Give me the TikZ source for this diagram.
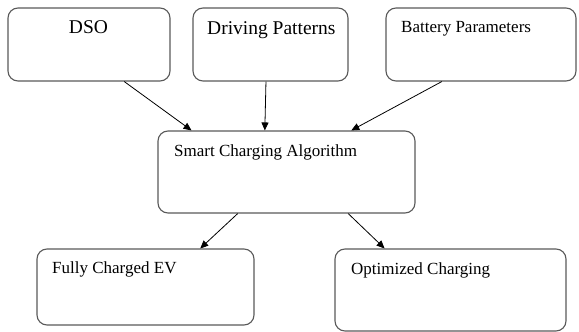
\documentclass[tikz,border=0pt]{standalone}
\usepackage{fontspec}
\setmainfont{Liberation Serif}
\usetikzlibrary{arrows.meta,calc}
\tikzset{
  flow box/.style={draw=black!65,line width=1.1pt,rounded corners=10pt,inner sep=0pt},
  box text/.style={inner sep=0pt,font=\fontsize{17}{20}\selectfont},
  big text/.style={box text,font=\fontsize{19.5}{23}\selectfont},
  flow edge/.style={-{Triangle[length=8pt,width=7pt]},line width=0.8pt},
}

\begin{document}
\begin{tikzpicture}[x=1pt,y=1pt]
  \useasboundingbox (0,0) rectangle (579,332);
  % input boxes
  \foreach \n/\x/\w in {dso/89/162,drv/270.5/155,bat/481/190}{
    \node[flow box,minimum width=\w pt,minimum height=73pt] (\n) at (\x,287.5) {};
  }
  \node[flow box,minimum width=257pt,minimum height=82pt] (sca) at (286.5,160) {};
  \node[flow box,minimum width=217pt,minimum height=76pt] (full) at (145.5,45) {};
  \node[flow box,minimum width=231pt,minimum height=82pt] (opt) at (450.5,42) {};
  % labels
  \node[big text,anchor=base] (dso text) at (88.5,298) {DSO};
  \node[big text,anchor=base west] (drv text) at (207,297) {Driving Patterns};
  \node[box text,anchor=base west] (bat text) at (401,299) {Battery Parameters};
  \node[box text,anchor=base west] (sca text) at (174,175) {Smart Charging Algorithm};
  \node[box text,anchor=base west] (full text) at (52,58) {Fully Charged EV};
  \node[box text,anchor=base west] (opt text) at (351,57) {Optimized Charging};
  % arrows
  \draw[flow edge] ($(dso.south west)!0.716!(dso.south east)$) -- ($(sca.north west)!0.132!(sca.north east)$);
  \draw[flow edge] ($(drv.south west)!0.471!(drv.south east)$) -- ($(sca.north west)!0.416!(sca.north east)$);
  \draw[flow edge] ($(bat.south west)!0.295!(bat.south east)$) -- ($(sca.north west)!0.751!(sca.north east)$);
  \draw[flow edge] ($(sca.south west)!0.311!(sca.south east)$) -- ($(full.north west)!0.751!(full.north east)$);
  \draw[flow edge] ($(sca.south west)!0.739!(sca.south east)$) -- ($(opt.north west)!0.216!(opt.north east)$);
\end{tikzpicture}
\end{document}
